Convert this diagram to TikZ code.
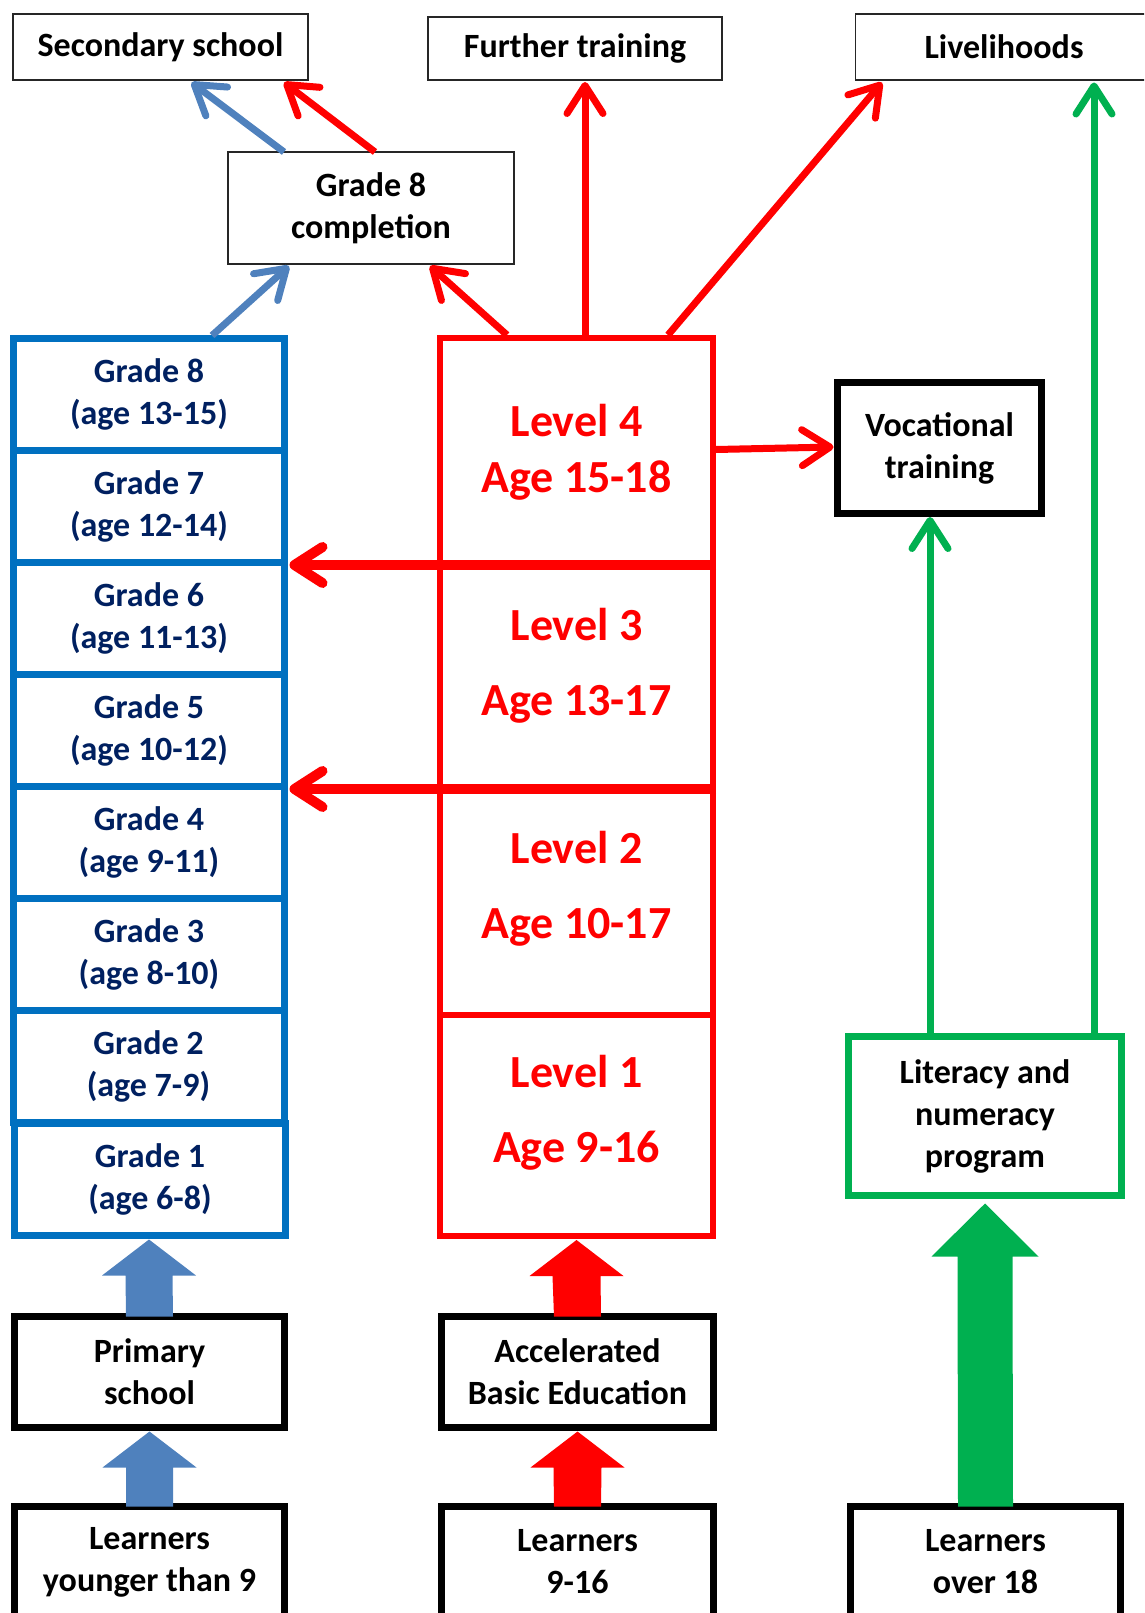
\documentclass[tikz,border=0pt]{standalone}
\usepackage{fontspec}
\setmainfont{Carlito}
\usetikzlibrary{arrows.meta,calc}
\definecolor{gradeline}{HTML}{0070C0}
\definecolor{gradetext}{HTML}{002060}
\definecolor{bluearrow}{HTML}{4F81BD}
\definecolor{redc}{HTML}{FF0000}
\definecolor{greenc}{HTML}{00B050}
\begin{document}
\begin{tikzpicture}[x=1pt,y=-1pt,
  every node/.style={inner sep=0pt,outer sep=0pt,align=center,
    font=\bfseries\fontsize{34}{42}\selectfont},
  thinbox/.style={draw=black!85,line width=1.7pt,fill=white},
  thickbox/.style={draw=black,line width=7pt,fill=white},
  gradebox/.style={draw=gradeline,line width=7pt,text=gradetext,
    minimum width=271pt,minimum height=112pt},
  levelbox/.style={draw=redc,line width=6.5pt,minimum width=273pt},
  leveltext/.style={text=redc,font=\bfseries\fontsize{46}{#1}\selectfont},
  tip/.style={-{Straight Barb[length=28pt,width=36pt,round]}},
  bluearr/.style={tip,draw=bluearrow,line width=7pt},
  redarr/.style={tip,draw=redc,line width=7pt},
  greenarr/.style={tip,draw=greenc,line width=7pt},
  barrow/.style={fill=#1,draw=none}
]
\useasboundingbox (0,0) rectangle (1144,1613);
\clip (0,0) rectangle (1144,1613);

% top boxes
\node[thinbox,minimum width=295pt,minimum height=66pt] (sec) at (160.5,47) {Secondary school};
\node[thinbox,minimum width=294pt,minimum height=63pt] (fur) at (575,48.5) {Further training};
\node[thinbox,minimum width=297pt,minimum height=66pt] (liv) at (1004,47) {Livelihoods};
\node[thinbox,minimum width=286pt,minimum height=112pt] (g8c) at (371,208) {Grade 8\\completion};

% grade column
\node[gradebox] (g8) at (149,394.5) {Grade 8\\(age 13-15)};
\node[gradebox] (g7) at (149,506.5) {Grade 7\\(age 12-14)};
\node[gradebox] (g6) at (149,618.5) {Grade 6\\(age 11-13)};
\node[gradebox] (g5) at (149,730.5) {Grade 5\\(age 10-12)};
\node[gradebox] (g4) at (149,842.5) {Grade 4\\(age 9-11)};
\node[gradebox] (g3) at (149,954.5) {Grade 3\\(age 8-10)};
\node[gradebox] (g2) at (148.5,1066.5) {Grade 2\\(age 7-9)};
\node[gradebox] (g1) at (150,1179.5) {Grade 1\\(age 6-8)};

% level column
\node[levelbox,minimum height=227pt] (L4) at (576.5,451.5) {};
\node[levelbox,minimum height=224pt] (L3) at (576.5,677) {};
\node[levelbox,minimum height=226pt] (L2) at (576.5,902) {};
\node[levelbox,minimum height=221pt] (L1) at (576.5,1125.5) {};
\node[leveltext=56] (L4t) at (576.5,452) {Level 4\\Age 15-18};
\node[leveltext=75] (L3t) at (576.5,665.5) {Level 3\\Age 13-17};
\node[leveltext=75] (L2t) at (576.5,889) {Level 2\\Age 10-17};
\node[leveltext=75] (L1t) at (576.5,1113) {Level 1\\Age 9-16};

% right column
\node[thickbox,minimum width=204pt,minimum height=131pt] (voc) at (939.5,448) {Vocational\\training};
\node[draw=greenc,line width=7pt,fill=white,minimum width=273pt,minimum height=159pt] (lit) at (985,1116) {Literacy and\\numeracy\\program};

% bottom boxes
\node[thickbox,minimum width=270pt,minimum height=111pt] (prim) at (149.5,1372) {Primary\\school};
\node[thickbox,minimum width=272pt,minimum height=111pt] (abe) at (577.5,1372) {Accelerated\\Basic Education};
\node[thickbox,minimum width=270pt,minimum height=111pt] (lyo) at (149.5,1562) {Learners\\younger than 9};
\node[thickbox,minimum width=272pt,minimum height=111pt] (l916) at (577.5,1562) {Learners\\9-16};
\node[thickbox,minimum width=270pt,minimum height=111pt] (l18) at (985.5,1562) {Learners\\over 18};

% thin arrows
\draw[bluearr] ($(g8.north)+(63,-3)$) -- ($(g8c.south)+(-82,2)$);
\draw[redarr] ($(L4.north)+(-69.5,-3)$) -- ($(g8c.south)+(59,2)$);
\draw[bluearr] ($(g8c.north)+(-87,0)$) -- ($(sec.south)+(31,2.5)$);
\draw[redarr] ($(g8c.north)+(4,0)$) -- ($(sec.south)+(123.5,2.5)$);
\draw[redarr] ($(L4.north)+(8.5,-3)$) -- ($(fur.south)+(10,2)$);
\draw[redarr] ($(L4.north)+(91.5,-3)$) -- ($(liv.south)+(-122,2.5)$);
\draw[greenarr] ($(lit.north)+(109,-3)$) -- ($(liv.south)+(90,2.5)$);
\draw[greenarr] ($(lit.north)+(-55,-3)$) -- ($(voc.south)+(-9.5,3.5)$);
\draw[redarr] ($(L4.east)+(3,-2)$) -- ($(voc.west)+(-4,-1)$);
\draw[redarr,line width=10pt] ($(L3.north east)+(3,0)$) -- ($(L3.north east -| g7.east)+(5,0)$);
\draw[redarr,line width=10pt] ($(L2.north east)+(3,0)$) -- ($(L2.north east -| g5.east)+(5,0)$);

% block arrows
\fill[barrow=bluearrow] ($(prim.north)+(-23.5,0)$) -- ($(g1.south)+(-24.5,40)$) -- ($(g1.south)+(-48,40)$)
  -- ($(g1.south)+(-1,4)$) -- ($(g1.south)+(46,40)$) -- ($(g1.south)+(22.5,40)$) -- ($(prim.north)+(23.5,0)$) -- cycle;
\fill[barrow=bluearrow] ($(lyo.north)+(-23.5,0)$) -- ($(prim.south)+(-23.5,40)$) -- ($(prim.south)+(-47,40)$)
  -- ($(prim.south)+(0,4)$) -- ($(prim.south)+(47,40)$) -- ($(prim.south)+(23.5,40)$) -- ($(lyo.north)+(23.5,0)$) -- cycle;
\fill[barrow=redc] ($(abe.north)+(-23.5,0)$) -- ($(L1.south)+(-24,40)$) -- ($(L1.south)+(-47,40)$)
  -- ($(L1.south)+(0,4)$) -- ($(L1.south)+(47,40)$) -- ($(L1.south)+(24,40)$) -- ($(abe.north)+(23.5,0)$) -- cycle;
\fill[barrow=redc] ($(l916.north)+(-23.5,0)$) -- ($(abe.south)+(-24,40)$) -- ($(abe.south)+(-47,40)$)
  -- ($(abe.south)+(0,4)$) -- ($(abe.south)+(47,40)$) -- ($(abe.south)+(24,40)$) -- ($(l916.north)+(23.5,0)$) -- cycle;
\fill[barrow=greenc] ($(l18.north)+(-27.5,0)$) -- ($(lit.south)+(-27.5,61)$) -- ($(lit.south)+(-53.5,61)$)
  -- ($(lit.south)+(0,8)$) -- ($(lit.south)+(53.5,61)$) -- ($(lit.south)+(27.5,61)$) -- ($(l18.north)+(27.5,0)$) -- cycle;
\end{tikzpicture}
\end{document}
